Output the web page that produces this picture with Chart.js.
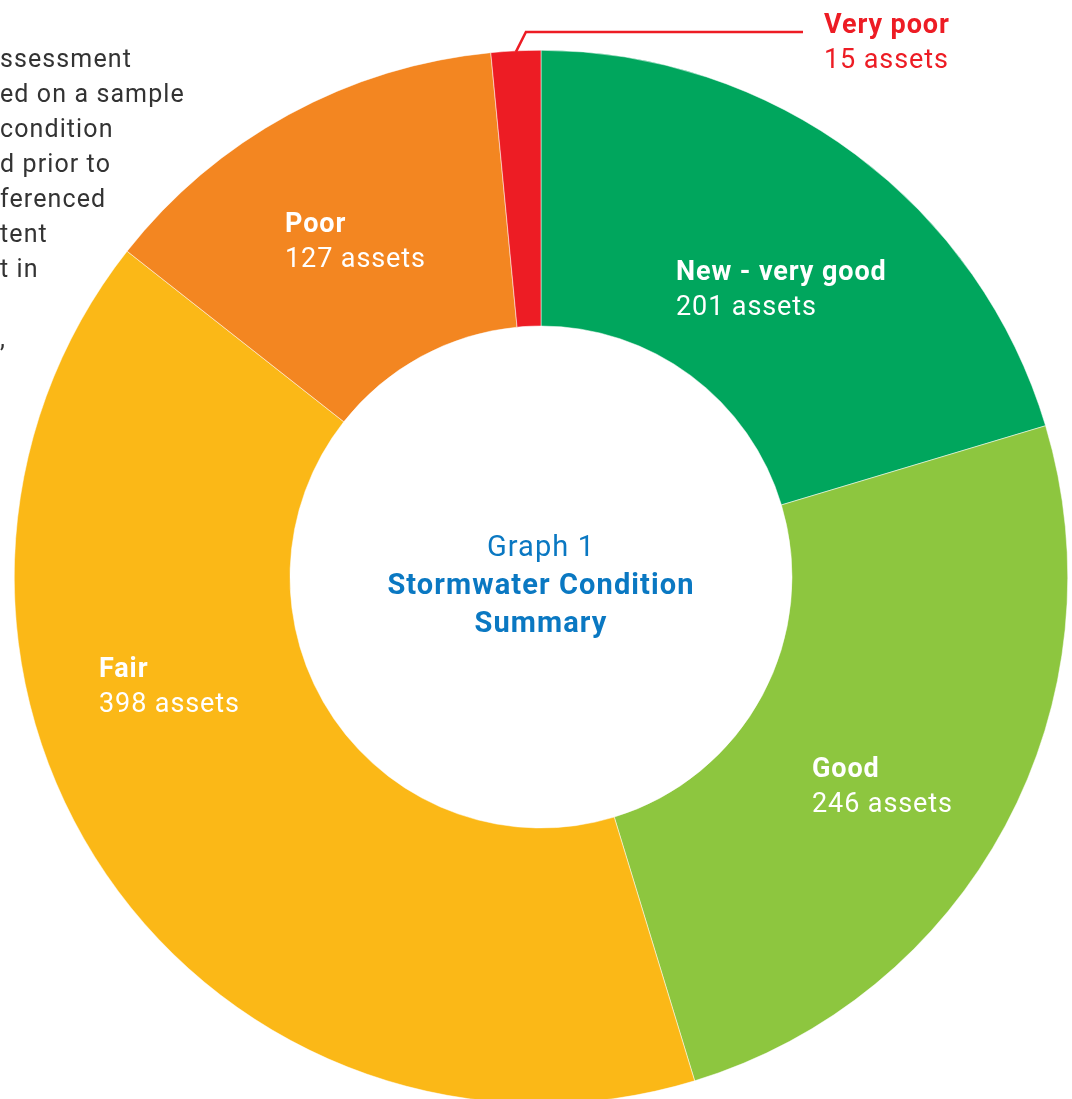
<!DOCTYPE html>
<html>
<head>
<meta charset="utf-8">
<script src="https://cdn.jsdelivr.net/npm/chart.js@4.4.1/dist/chart.umd.min.js"></script>
<style>
  html, body { margin: 0; padding: 0; background: #fff; overflow: hidden; width: 1072px; height: 1099px; }
  #wrap { position: relative; width: 1072px; height: 1099px; overflow: hidden; }
  #conditionChart { position: absolute; left: 0; top: 0; }
  #note {
    position: absolute; left: 0; top: 41px; margin: 0;
    font-family: Roboto, sans-serif; font-size: 25px; line-height: 35px;
    letter-spacing: 1.1px; color: #333333; white-space: pre;
  }
</style>
</head>
<body>
<div id="wrap">
  <canvas id="conditionChart" width="1072" height="1104"></canvas>
  <p id="note">ssessment
ed on a sample
condition
d prior to
ferenced
tent
t in

,</p>
</div>
<script>
var categories = ['New - very good', 'Good', 'Fair', 'Poor', 'Very poor'];
var assetCounts = [201, 246, 398, 127, 15];
var sliceColors = ['#00A65D', '#8DC63F', '#FBB817', '#F38621', '#ED1C24'];
var labelColors = ['#ffffff', '#ffffff', '#ffffff', '#ffffff', '#ED1C24'];

// label anchor (left x, first line y) relative to the doughnut centre
var labelSpots = [[135, -304], [271, 193], [-442, 93], [-256, -352], [283, -551]];

var centreLines = [
  { text: 'Graph 1', weight: '400' },
  { text: 'Stormwater Condition', weight: '700' },
  { text: 'Summary', weight: '700' }
];

var sliceLabels = {
  id: 'sliceLabels',
  afterDraw: function (chart) {
    var ctx = chart.ctx;
    var arcs = chart.getDatasetMeta(0).data;
    var cx = arcs[0].x, cy = arcs[0].y;
    ctx.save();
    ctx.textBaseline = 'middle';
    ctx.textAlign = 'left';
    ctx.letterSpacing = '0.9px';
    for (var i = 0; i < categories.length; i++) {
      var lx = cx + labelSpots[i][0], ly = cy + labelSpots[i][1];
      ctx.fillStyle = labelColors[i];
      ctx.font = 'bold 27px Roboto';
      ctx.fillText(categories[i], lx, ly);
      ctx.font = '27px Roboto';
      ctx.fillText(assetCounts[i] + ' assets', lx, ly + 35);
    }

    // leader line for the thin "Very poor" slice
    var last = arcs[arcs.length - 1];
    var mid = (last.startAngle + last.endAngle) / 2;
    var r = last.outerRadius - 1;
    var sx = cx + Math.cos(mid) * r, sy = cy + Math.sin(mid) * r;
    var ex = cx + labelSpots[4][0] - 21, ey = cy + labelSpots[4][1] + 6;
    ctx.strokeStyle = '#ED1C24';
    ctx.lineWidth = 2.5;
    ctx.beginPath();
    ctx.moveTo(sx, sy);
    ctx.lineTo(sx + 10, ey);
    ctx.lineTo(ex, ey);
    ctx.stroke();

    // centre title
    ctx.textAlign = 'center';
    ctx.fillStyle = '#0A78C2';
    ctx.letterSpacing = '1.1px';
    for (var j = 0; j < centreLines.length; j++) {
      ctx.font = centreLines[j].weight + ' 29px Roboto';
      ctx.fillText(centreLines[j].text, cx, cy - 28 + j * 38);
    }
    ctx.restore();
  }
};

new Chart(document.getElementById('conditionChart'), {
  type: 'doughnut',
  data: {
    labels: categories,
    datasets: [{
      data: assetCounts,
      backgroundColor: sliceColors,
      borderColor: '#ffffff',
      borderWidth: 0.5
    }]
  },
  options: {
    responsive: false,
    devicePixelRatio: 1,
    animation: false,
    cutout: 251,
    layout: { padding: { left: 14, right: 4, top: 50, bottom: 0 } },
    plugins: {
      legend: { display: false },
      tooltip: { enabled: false }
    }
  },
  plugins: [sliceLabels]
});
</script>
</body>
</html>
